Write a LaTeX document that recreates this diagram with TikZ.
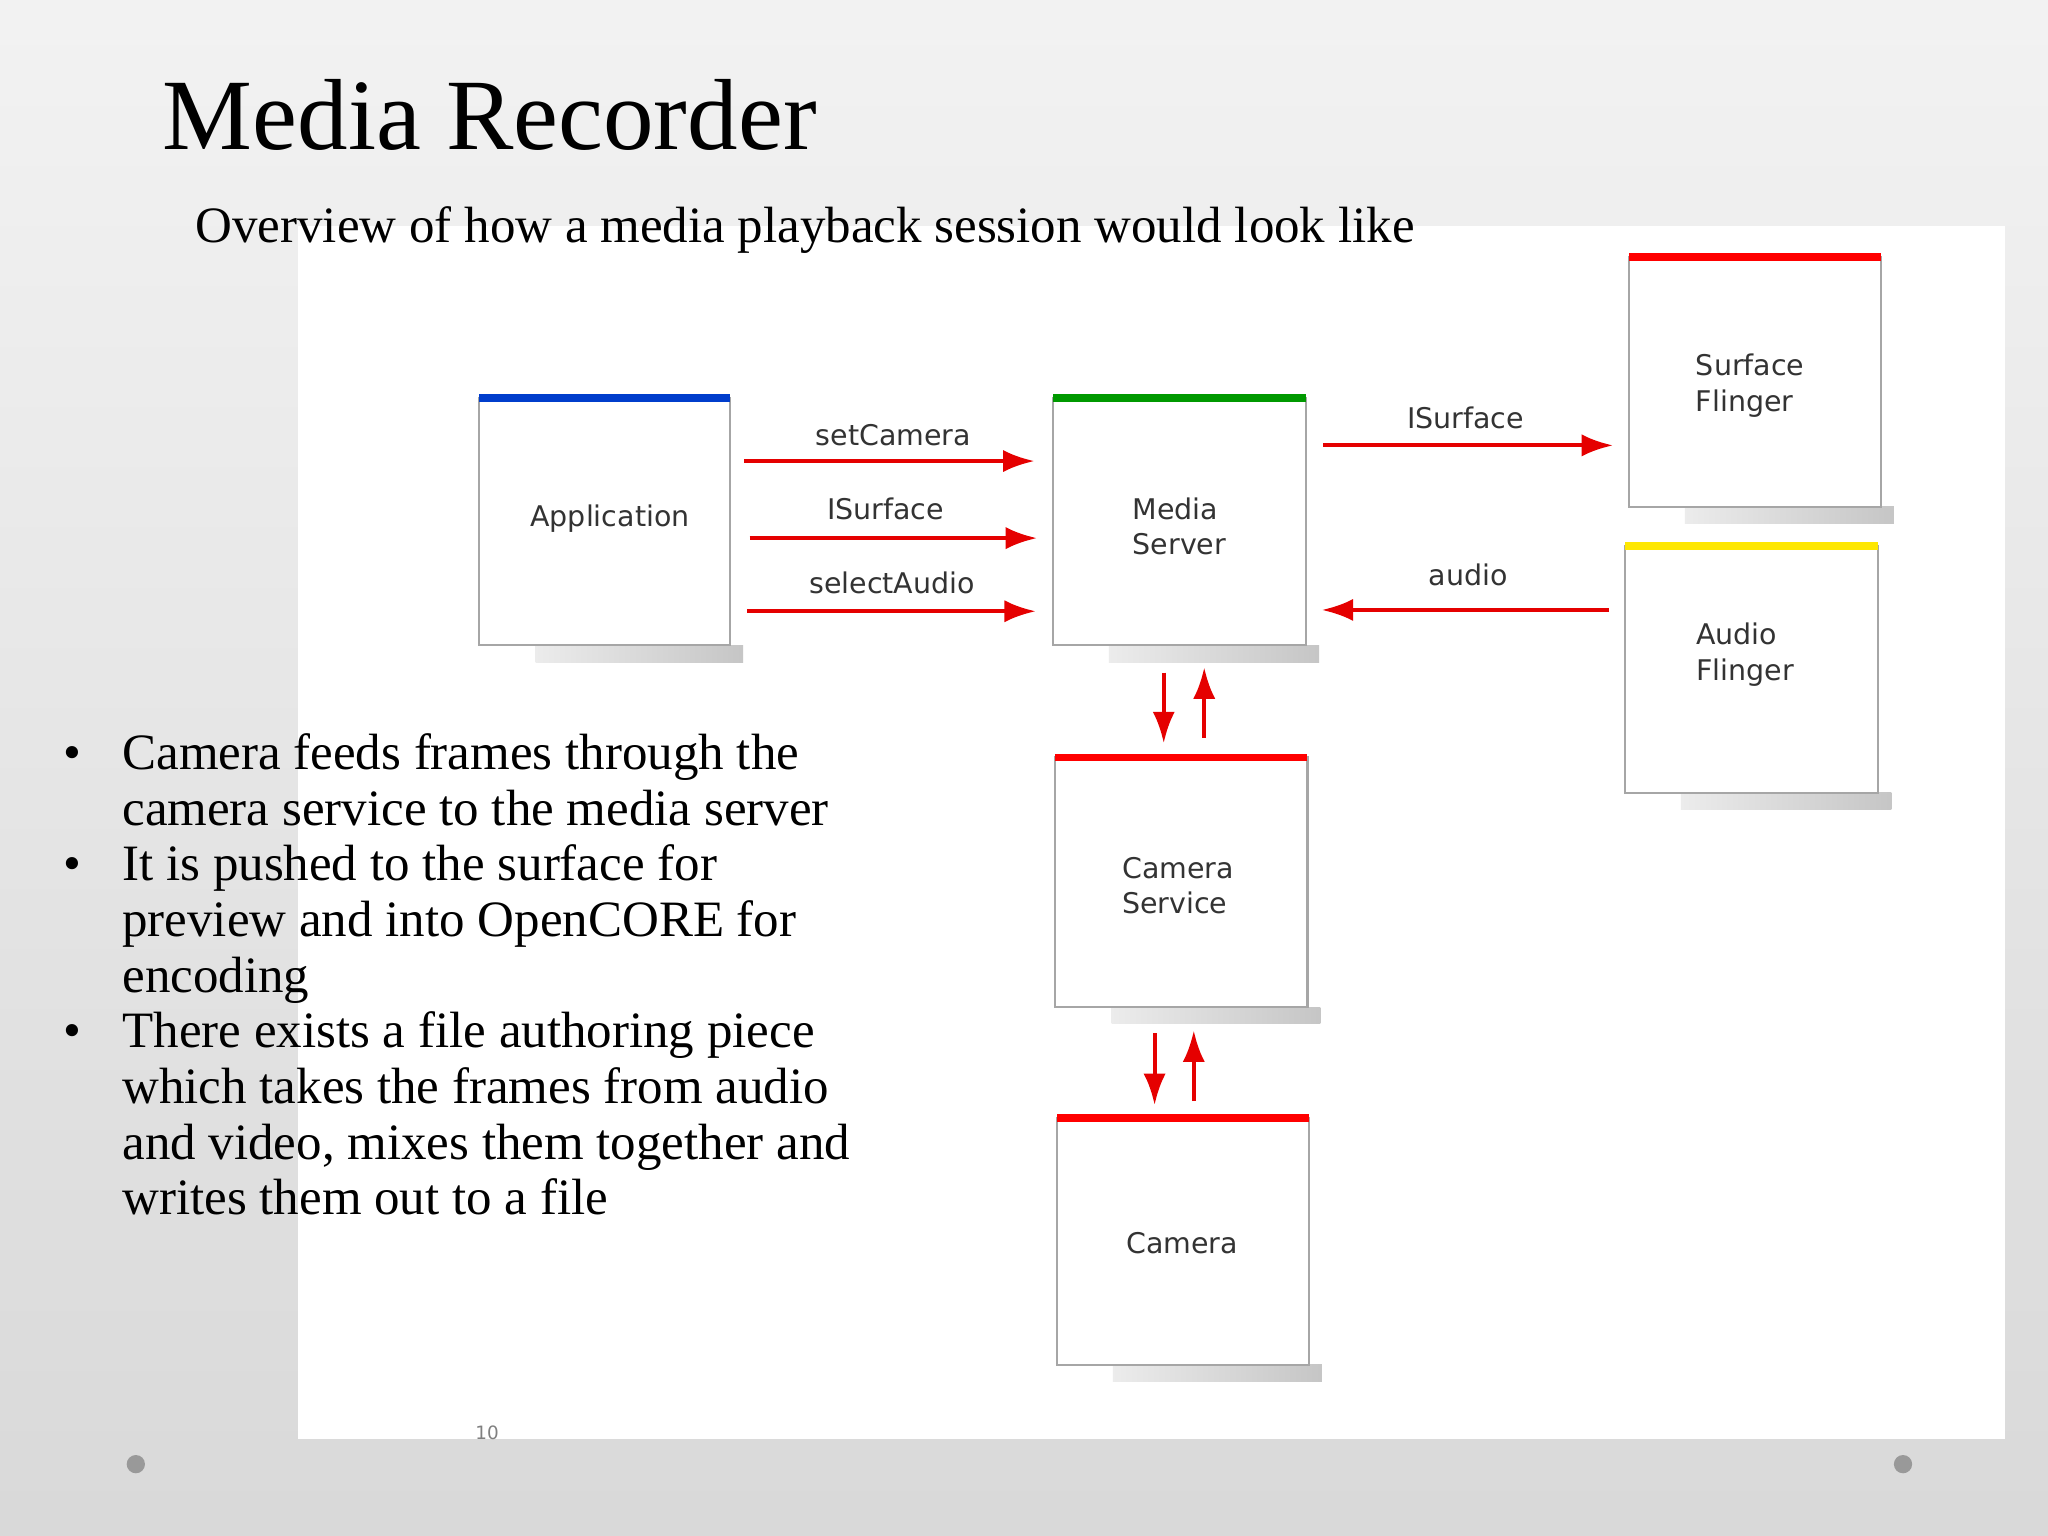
\documentclass[tikz,border=0pt]{standalone}
\usepackage{fontspec}
\setmainfont{Liberation Serif}
\newfontfamily\boxfont{DejaVu Sans}
\usetikzlibrary{arrows.meta}
\begin{document}
\begin{tikzpicture}[x=0.01cm,y=-0.01cm,
  box/.style={draw=gray!70,line width=0.5pt,fill=white},
  lbl/.style={font=\boxfont\fontsize{6.2}{7.8}\selectfont,text=black!80,align=left},
  arr/.style={draw=red!90!black,line width=0.9pt,-{Latex[length=2.4mm,width=1.7mm]}},
  bul/.style={anchor=base west,font=\fontsize{11.1}{12}\selectfont,inner sep=0pt},
  shadowbar/.style={left color=gray!15,right color=gray!45,draw=none}]
\useasboundingbox (0,0) rectangle (1568,1176);
\shade[top color=gray!10,bottom color=gray!30] (0,0) rectangle (1568,1176);
\fill[white] (228,173) rectangle (1535,1102);
\node[anchor=west,font=\fontsize{22}{26}\selectfont,inner sep=0pt] (title) at (124,88) {Media Recorder};
\node[anchor=base west,font=\fontsize{11.1}{12}\selectfont,inner sep=0pt] (sub) at (149,186) {Overview of how a media playback session would look like};
\newcommand{\mybox}[6]{%
  \fill[shadowbar] (#2+43,#5) rectangle (#4+10,#5+13);
  \draw[box] (#2,#3) rectangle (#4,#5);
  \fill[#6] (#2,#3-3) rectangle (#4,#3+3);
  \coordinate (#1) at ({(#2+#4)/2},{(#3+#5)/2});}
\mybox{app}{367}{305}{559}{494}{blue!70!cyan!80!black}
\mybox{ms}{806}{305}{1000}{494}{green!60!black}
\mybox{sf}{1247}{197}{1440}{388}{red}
\mybox{af}{1244}{418}{1438}{607}{yellow!90!orange}
\mybox{cs}{808}{580}{1001}{771}{red}
\mybox{cam}{809}{856}{1002}{1045}{red}
\node[lbl] (tapp) at (467,397) {Application};
\node[lbl] (tms) at (903,403) {Media\\Server};
\node[lbl] (tsf) at (1340,295) {Surface\\Flinger};
\node[lbl] (taf) at (1336,501) {Audio\\Flinger};
\node[lbl] (tcs) at (902,678) {Camera\\Service};
\node[lbl] (tcam) at (905,952) {Camera};
\coordinate (a1s) at (570,353); \coordinate (a1e) at (792,353);
\coordinate (a2s) at (574,412); \coordinate (a2e) at (794,412);
\coordinate (a3s) at (572,468); \coordinate (a3e) at (793,468);
\coordinate (a4s) at (1013,341); \coordinate (a4e) at (1235,341);
\coordinate (a5s) at (1232,467); \coordinate (a5e) at (1012,467);
\draw[arr] (a1s) -- (a1e); \draw[arr] (a2s) -- (a2e); \draw[arr] (a3s) -- (a3e);
\draw[arr] (a4s) -- (a4e); \draw[arr] (a5s) -- (a5e);
\node[lbl] (l1) at (684,333) {setCamera};
\node[lbl] (l2) at (678,390) {ISurface};
\node[lbl] (l3) at (683,446) {selectAudio};
\node[lbl] (l4) at (1122,320) {ISurface};
\node[lbl] (l5) at (1124,440) {audio};
\coordinate (v1s) at (891,515); \coordinate (v1e) at (891,569);
\coordinate (v2s) at (922,565); \coordinate (v2e) at (922,511);
\coordinate (v3s) at (884,791); \coordinate (v3e) at (884,846);
\coordinate (v4s) at (914,843); \coordinate (v4e) at (914,789);
\draw[arr] (v1s) -- (v1e); \draw[arr] (v2s) -- (v2e);
\draw[arr] (v3s) -- (v3e); \draw[arr] (v4s) -- (v4e);
\node[bul] (b1) at (48,589) {•};
\node[bul] (b2) at (48,674) {•};
\node[bul] (b3) at (48,802) {•};
\node[bul] (t1) at (93,589) {Camera feeds frames through the};
\node[bul] (t2) at (93,632) {camera service to the media server};
\node[bul] (t3) at (93,674) {It is pushed to the surface for};
\node[bul] (t4) at (93,717) {preview and into OpenCORE for};
\node[bul] (t5) at (93,760) {encoding};
\node[bul] (t6) at (93,802) {There exists a file authoring piece};
\node[bul] (t7) at (93,845) {which takes the frames from audio};
\node[bul] (t8) at (93,888) {and video, mixes them together and};
\node[bul] (t9) at (93,930) {writes them out to a file};
\node[font=\boxfont\fontsize{4}{5}\selectfont,text=gray] (pg) at (373,1097) {10};
\fill[gray!80] (104,1121) circle (7); \fill[gray!80] (1457,1121) circle (7);
\end{tikzpicture}
\end{document}
